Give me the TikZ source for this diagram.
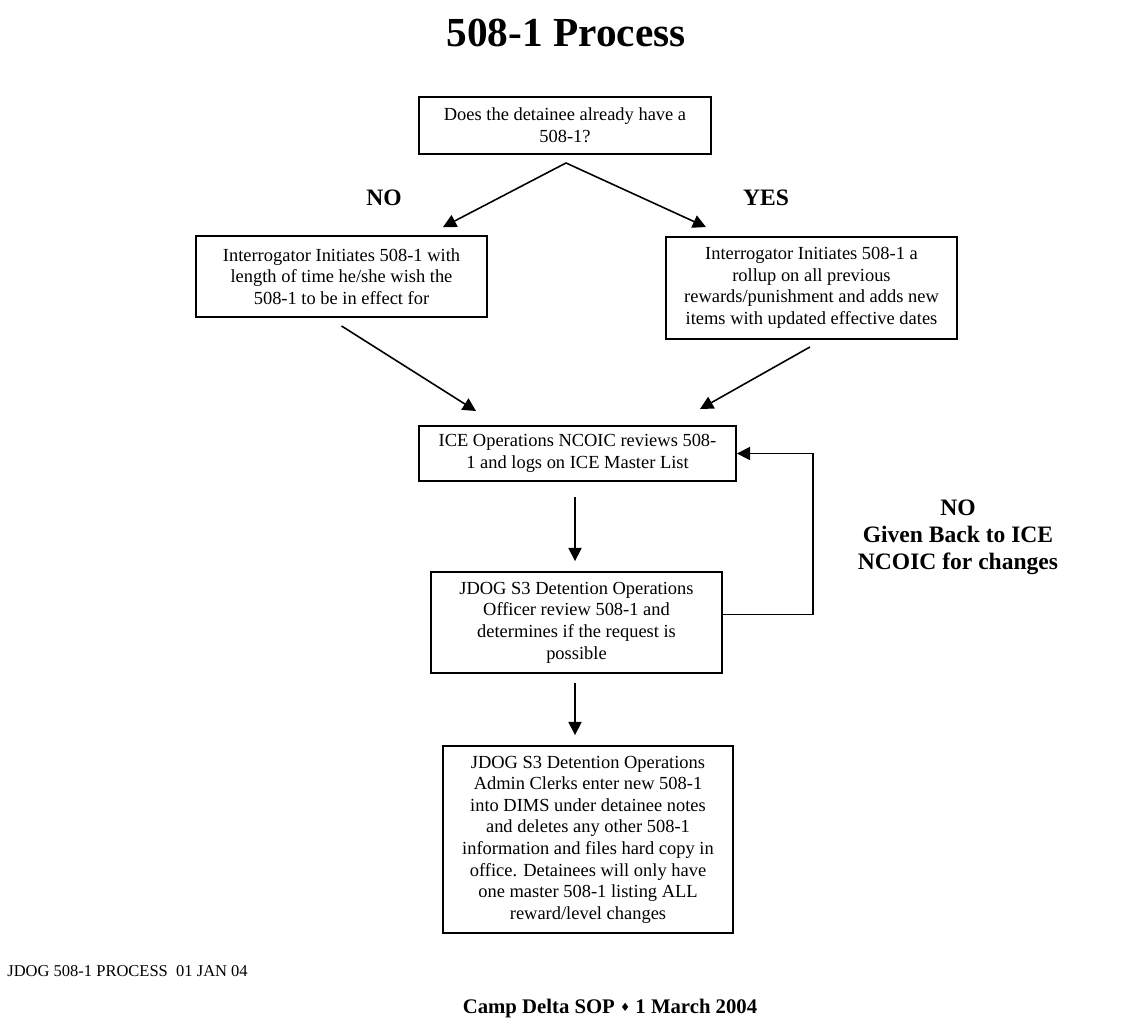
\documentclass[tikz,border=0pt]{standalone}
\usepackage{fontspec}
\setmainfont{Liberation Serif}
\newfontfamily\symfont{DejaVu Sans}
\usepackage{tikz}
\usetikzlibrary{arrows.meta,calc,positioning}

\begin{document}
\begin{tikzpicture}[x=0.02cm,y=-0.02cm,
  box/.style={draw, line width=1.1pt, align=center, inner sep=0pt,
    font=\fontsize{10.5}{12.3}\selectfont},
  arr/.style={-{Triangle[length=7.5pt,width=7.5pt]}, line width=0.9pt},
  tag/.style={font=\fontsize{13.4}{15.3}\selectfont\bfseries, align=center}]
\useasboundingbox (0,0) rectangle (1128,1022);
\node[font=\fontsize{23.5}{26}\selectfont\bfseries, anchor=base] (title) at (566,46) {508-1 Process};

\node[box, minimum width=5.84cm, minimum height=1.14cm] (ask) at (565,125.5)
  {Does the detainee already have a\\508-1?};
\node[box, minimum width=5.82cm, minimum height=1.62cm] (init) at (341.5,276.5)
  {Interrogator Initiates 508-1 with\\length of time he/she wish the\\508-1 to be in effect for};
\node[box, minimum width=5.82cm, minimum height=2.04cm] (rollup) at (811.5,288)
  {Interrogator Initiates 508-1 a\\rollup on all previous\\rewards/punishment and adds new\\items with updated effective dates};
\node[box, minimum width=6.34cm, minimum height=1.10cm] (ice) at (577.5,453.5)
  {ICE Operations NCOIC reviews 508-\\1 and logs on ICE Master List};
\node[box, minimum width=5.82cm, minimum height=2.02cm] (jdog) at (576.5,622.5)
  {JDOG S3 Detention Operations\\Officer review 508-1 and\\determines if the request is\\possible};
\node[box, minimum width=5.80cm, minimum height=3.74cm] (admin) at (588,839.5)
  {JDOG S3 Detention Operations\\Admin Clerks enter new 508-1\\into DIMS under detainee notes\\and deletes any other 508-1\\information and files hard copy in\\office.  Detainees will only have\\one master 508-1 listing ALL\\reward/level changes};

\node[tag, anchor=base] (no) at (384,205) {NO};
\node[tag, anchor=base] (yes) at (766,205) {YES};
\node[tag] (back) at (958,537) {NO\\Given Back to ICE\\NCOIC for changes};

\draw[arr] ($(ask.south)+(1,8)$) -- ($(init.north)+(101.5,-8)$);
\draw[arr] ($(ask.south)+(1,8)$) -- ($(rollup.north)+(-105.5,-9)$);
\draw[arr] ($(init.south)+(0,8)$) -- ($(ice.north)+(-101.5,-14)$);
\draw[arr] ($(rollup.south)+(-1.5,7)$) -- ($(ice.north)+(122.5,-16)$);
\draw[arr] ($(ice.south)+(-2.5,15)$) -- ($(jdog.north)+(-1.5,-10)$);
\draw[arr] ($(jdog.south)+(-1.5,9)$) -- ($(admin.north)+(-13,-10)$);
\draw[arr] ($(jdog.east)+(0,-8)$) -| ($(ice.east)+(76,0)$) -- (ice.east);

\node[font=\fontsize{9.4}{11}\selectfont, anchor=base west, inner sep=0pt] (stamp) at (7,976)
  {JDOG 508-1 PROCESS\ \ 01 JAN 04};
\node[font=\fontsize{11.8}{13}\selectfont\bfseries, anchor=base] (foot) at (610,1013)
  {Camp Delta SOP {\symfont\fontsize{6.5}{7}\selectfont\raisebox{0.25ex}{♦}} 1 March 2004};
\end{tikzpicture}
\end{document}
